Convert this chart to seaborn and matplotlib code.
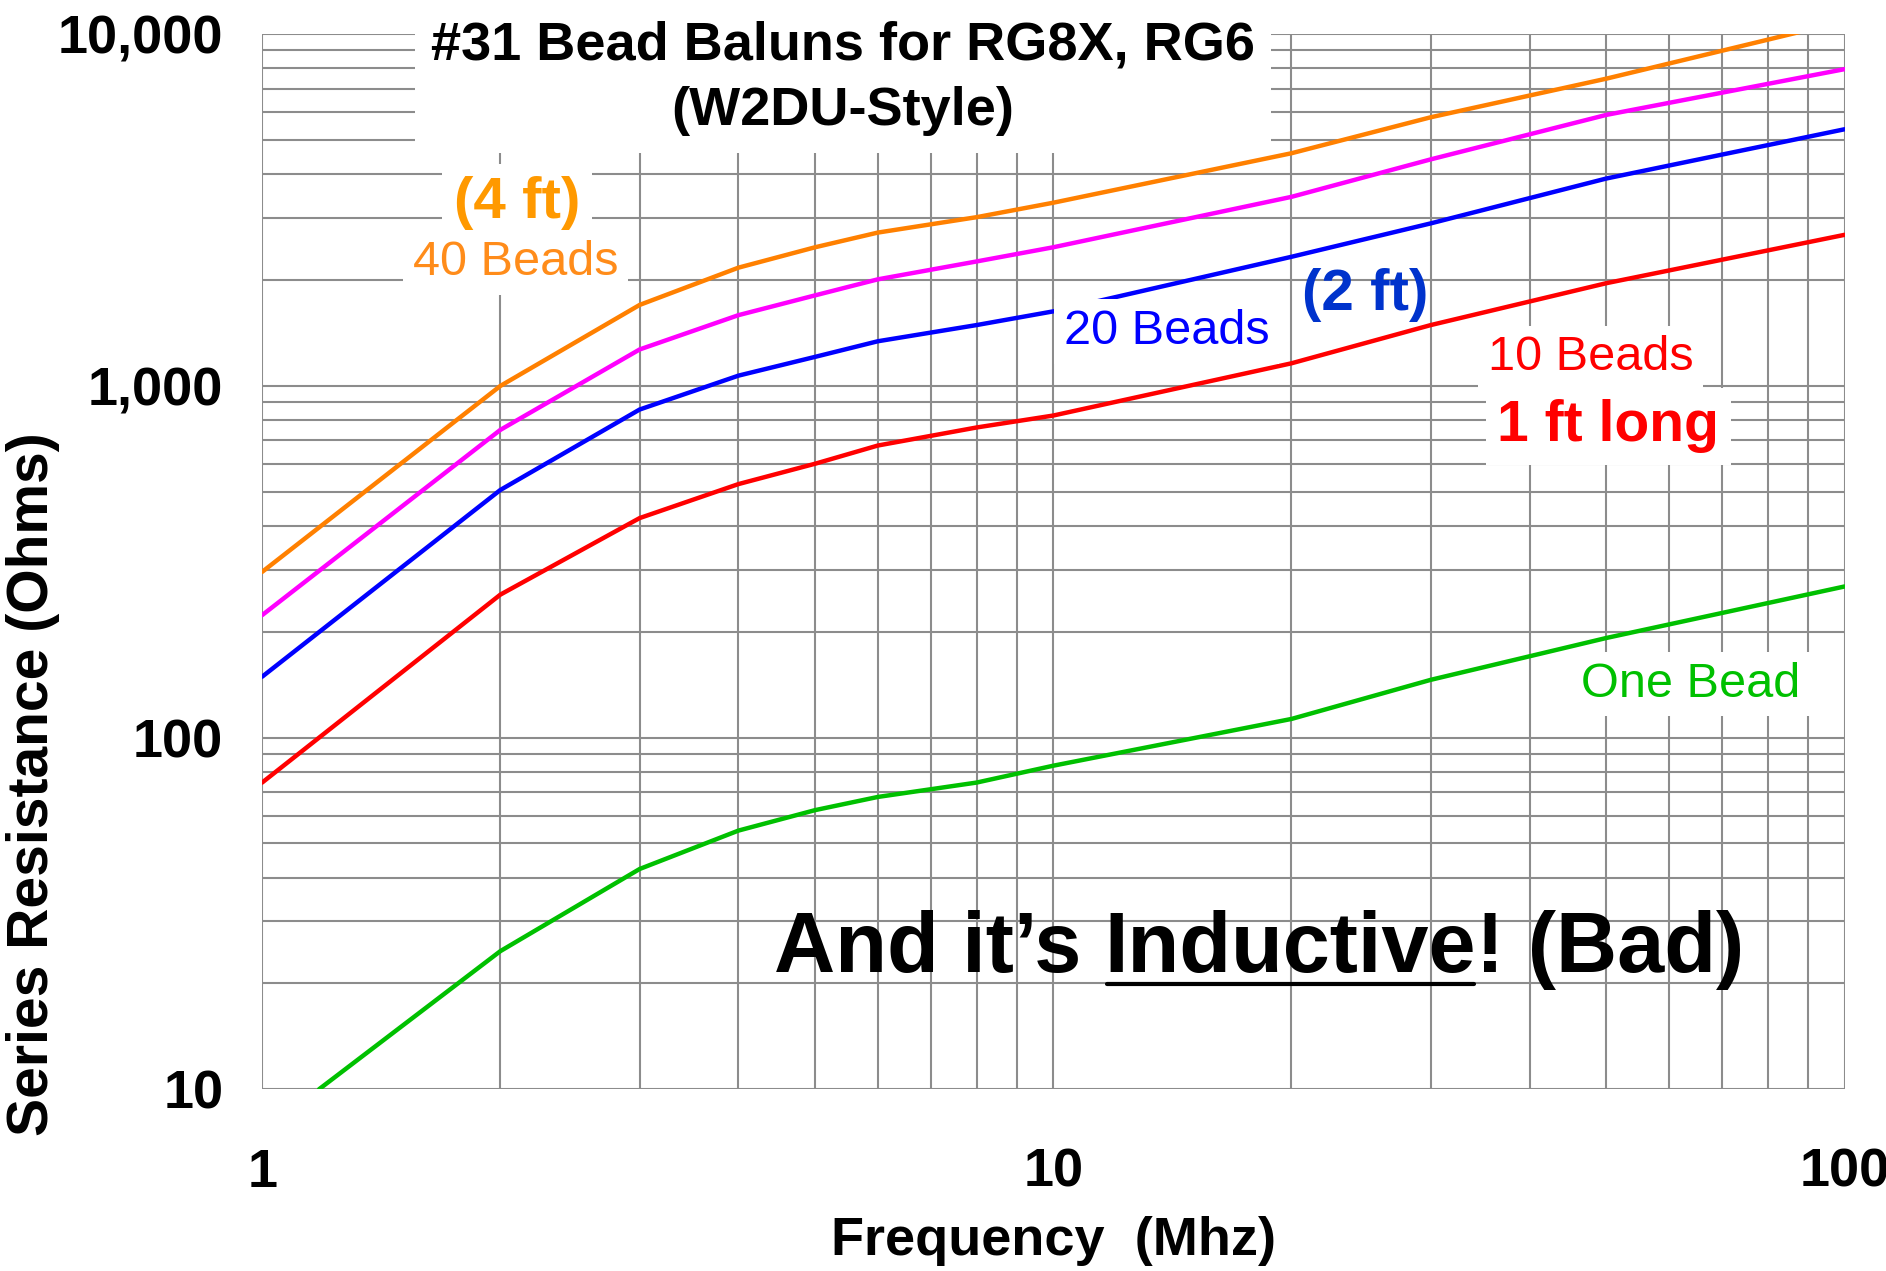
import pandas as pd
import matplotlib.pyplot as plt
import seaborn as sns
from matplotlib.lines import Line2D
from matplotlib.transforms import IdentityTransform
from matplotlib.ticker import FuncFormatter, NullFormatter, LogLocator

# values (Series resistance in ohms vs frequency in MHz)
freq_mhz = [1, 2, 3, 4, 5, 6, 8, 10, 20, 30, 50, 100]
beads_40 = [296, 1000, 1700, 2170, 2480, 2730, 3020, 3320, 4590, 5810, 7480, 10900]
magenta_curve = [223, 750, 1270, 1590, 1810, 2010, 2260, 2480, 3450, 4410, 5900, 7960]
beads_20 = [149, 506, 857, 1070, 1210, 1340, 1490, 1630, 2330, 2900, 3890, 5370]
beads_10 = [74.5, 255, 421, 526, 601, 677, 762, 824, 1160, 1490, 1960, 2690]
one_bead_freq = [1.18, 2, 3, 4, 5, 6, 8, 10, 20, 30, 50, 100]
one_bead = [10, 24.7, 42.3, 54.4, 62.2, 67.8, 74.5, 83.2, 113, 146, 192, 269]

series_names = ["40 Beads", "Magenta", "20 Beads", "10 Beads", "One Bead"]
line_colors = ["#FF8000", "#FF00FF", "#0000FF", "#FF0000", "#00C000"]

frames = []
for name, xs, ys in zip(series_names,
                        [freq_mhz, freq_mhz, freq_mhz, freq_mhz, one_bead_freq],
                        [beads_40, magenta_curve, beads_20, beads_10, one_bead]):
    frames.append(pd.DataFrame({"freq": xs, "ohms": ys, "series": name}))
df = pd.concat(frames, ignore_index=True)

sns.set_theme(style="white")
plt.rcParams["font.family"] = ["Liberation Sans", "DejaVu Sans"]
plt.rcParams["text.color"] = "black"
plt.rcParams["axes.labelcolor"] = "black"
plt.rcParams["xtick.labelcolor"] = "black"
plt.rcParams["ytick.labelcolor"] = "black"

fig, ax = plt.subplots(figsize=(18.86, 12.71), dpi=100)
fig.subplots_adjust(left=0.139, right=0.978, bottom=0.143, top=0.973)

sns.lineplot(data=df, x="freq", y="ohms", hue="series", hue_order=series_names,
             palette=line_colors, linewidth=3.2, legend=False, ax=ax, zorder=3)

ax.set_xscale("log")
ax.set_yscale("log")
ax.set_xlim(1, 100)
ax.set_ylim(10, 10000)

ax.xaxis.set_minor_locator(LogLocator(subs=range(2, 10)))
ax.yaxis.set_minor_locator(LogLocator(subs=range(2, 10)))
ax.xaxis.set_minor_formatter(NullFormatter())
ax.yaxis.set_minor_formatter(NullFormatter())
ax.xaxis.set_major_formatter(FuncFormatter(lambda v, _: f"{int(round(v))}"))
ax.yaxis.set_major_formatter(FuncFormatter(lambda v, _: f"{int(round(v)):,}"))

grid_c = "#8c8c8c"
ax.grid(which="both", color=grid_c, linewidth=1.5)
ax.set_axisbelow(True)
for s in ax.spines.values():
    s.set_visible(False)
ax.tick_params(which="major", length=10, width=1.5, color=grid_c, labelsize=39,
               labelcolor="black")
ax.tick_params(which="minor", length=6, width=1.5, color=grid_c)
ax.tick_params(axis="x", which="major", pad=32)
ax.tick_params(axis="y", which="major", pad=18)
for lab in ax.get_xticklabels() + ax.get_yticklabels():
    lab.set_fontweight("bold")

ax.set_xlabel("Frequency  (Mhz)", fontsize=39, fontweight="bold", color="black")
ax.set_ylabel("Series Resistance (Ohms)", fontsize=41, fontweight="bold", color="black")
ax.xaxis.set_label_coords(0.5, -0.12)
ax.yaxis.set_label_coords(-0.128, 0.289)

white = dict(boxstyle="square,pad=0.2", fc="white", ec="none")

ax.text(0.367, 0.958, "#31 Bead Baluns for RG8X, RG6\n(W2DU-Style)",
        transform=ax.transAxes, ha="center", va="center", fontsize=39,
        fontweight="bold", linespacing=1.4, zorder=5, color="black",
        bbox=dict(boxstyle="square,pad=0.3", fc="white", ec="none"))

ax.text(2.10, 3320, "(4 ft)", ha="center", va="center", fontsize=42,
        fontweight="bold", color="#FF9900", bbox=white, zorder=5)
ax.text(2.09, 2240, "40 Beads", ha="center", va="center", fontsize=35,
        color="#FF8C1A", bbox=white, zorder=5)
ax.text(13.9, 1430, "20 Beads", ha="center", va="center", fontsize=35,
        color="#0000FF", bbox=white, zorder=5)
ax.text(24.8, 1810, "(2 ft)", ha="center", va="center", fontsize=42,
        fontweight="bold", color="#0033CC", zorder=5)
ax.text(47.8, 1202, "10 Beads", ha="center", va="center", fontsize=35,
        color="#FF0000", bbox=white, zorder=5)
ax.text(50.3, 767, "1 ft long", ha="center", va="center", fontsize=41,
        fontweight="bold", color="#FF0000", bbox=white, zorder=5)
ax.text(63.9, 142, "One Bead", ha="center", va="center", fontsize=35,
        color="#00C000", bbox=white, zorder=5)

# "And it's Inductive! (Bad)" with "Inductive" underlined
t1 = ax.text(4.43, 21.5, "And it\u2019s", ha="left", va="baseline",
             fontsize=61, fontweight="bold", color="black", zorder=5)
t2 = ax.annotate("Inductive", xy=(1, 0), xycoords=t1, xytext=(17, 0),
                 textcoords="offset points", ha="left", va="bottom",
                 fontsize=61, fontweight="bold", color="black", zorder=5)
t3 = ax.annotate("! (Bad)", xy=(1, 0), xycoords=t2, ha="left", va="bottom",
                 fontsize=61, fontweight="bold", color="black", zorder=5)

fig.canvas.draw()
bb = t2.get_window_extent()
uy = bb.y0 + 6
fig.add_artist(Line2D([bb.x0 + 2, bb.x1 - 2], [uy, uy], transform=IdentityTransform(),
                      color="black", linewidth=3))

fig.savefig("out.png", dpi=100)
